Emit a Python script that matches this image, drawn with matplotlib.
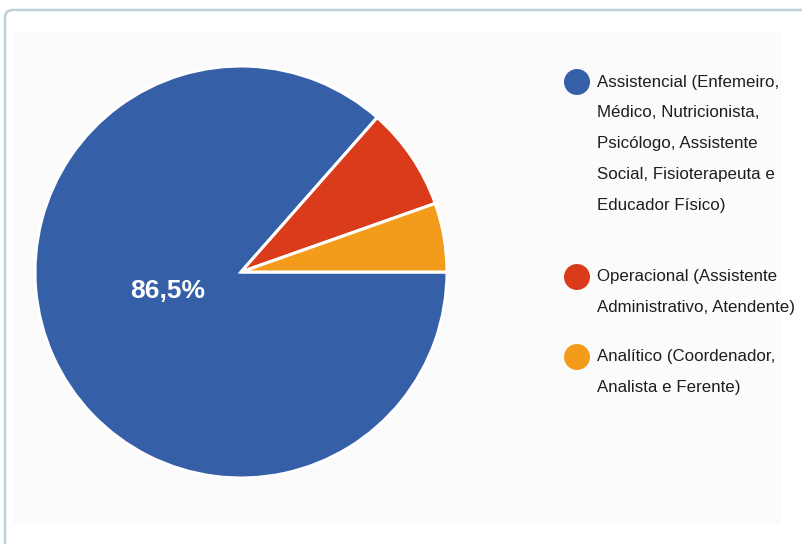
import matplotlib.pyplot as plt
from matplotlib.patches import Circle, FancyBboxPatch, Rectangle

# Distribution of staff by job category
categories = [
    "Assistencial (Enfemeiro,\nMédico, Nutricionista,\nPsicólogo, Assistente\nSocial, Fisioterapeuta e\nEducador Físico)",
    "Operacional (Assistente\nAdministrativo, Atendente)",
    "Analítico (Coordenador,\nAnalista e Ferente)",
]
shares = [86.5, 8.1, 5.4]
colors = ["#3560a8", "#d93b1b", "#f39c1b"]

plt.rcParams["font.family"] = ["Liberation Sans", "DejaVu Sans"]

W, H = 803, 544
fig = plt.figure(figsize=(W / 100, H / 100), dpi=100)
ax = fig.add_axes([0, 0, 1, 1])

# card frame (runs off the right and bottom edges)
ax.add_patch(FancyBboxPatch((5, -20), W + 20, H - 5 + 15, boxstyle="round,pad=0,rounding_size=8",
                            facecolor="white", edgecolor="#bcd2d8", linewidth=1.8))
ax.add_patch(Rectangle((13, H - 524), 768, 492, facecolor="#fbfbfb", edgecolor="none"))

cx, cy, r = 241, H - 272, 206
wedges, _ = ax.pie(shares, colors=colors, startangle=0, counterclock=False,
                   center=(cx, cy), radius=r, frame=True,
                   wedgeprops=dict(edgecolor="white", linewidth=2.2))
ax.set_xlim(0, W)
ax.set_ylim(0, H)
ax.set_aspect("equal")
ax.axis("off")

label = f"{shares[0]:.1f}%".replace(".", ",")
ax.text(168, H - 291, label, color="white", fontsize=19, fontweight="bold",
        ha="center", va="center")

# legend, one text per line
line_h = 30.8
starts = [82, 277, 357]
for lab, col, y0 in zip(categories, colors, starts):
    ax.add_patch(Circle((577, H - y0), 13, facecolor=col, edgecolor="none"))
    for i, line in enumerate(lab.split("\n")):
        ax.text(597, H - y0 - i * line_h, line, fontsize=12.2, color="#1e1e1e",
                ha="left", va="center")

fig.savefig("out.png", dpi=100)
